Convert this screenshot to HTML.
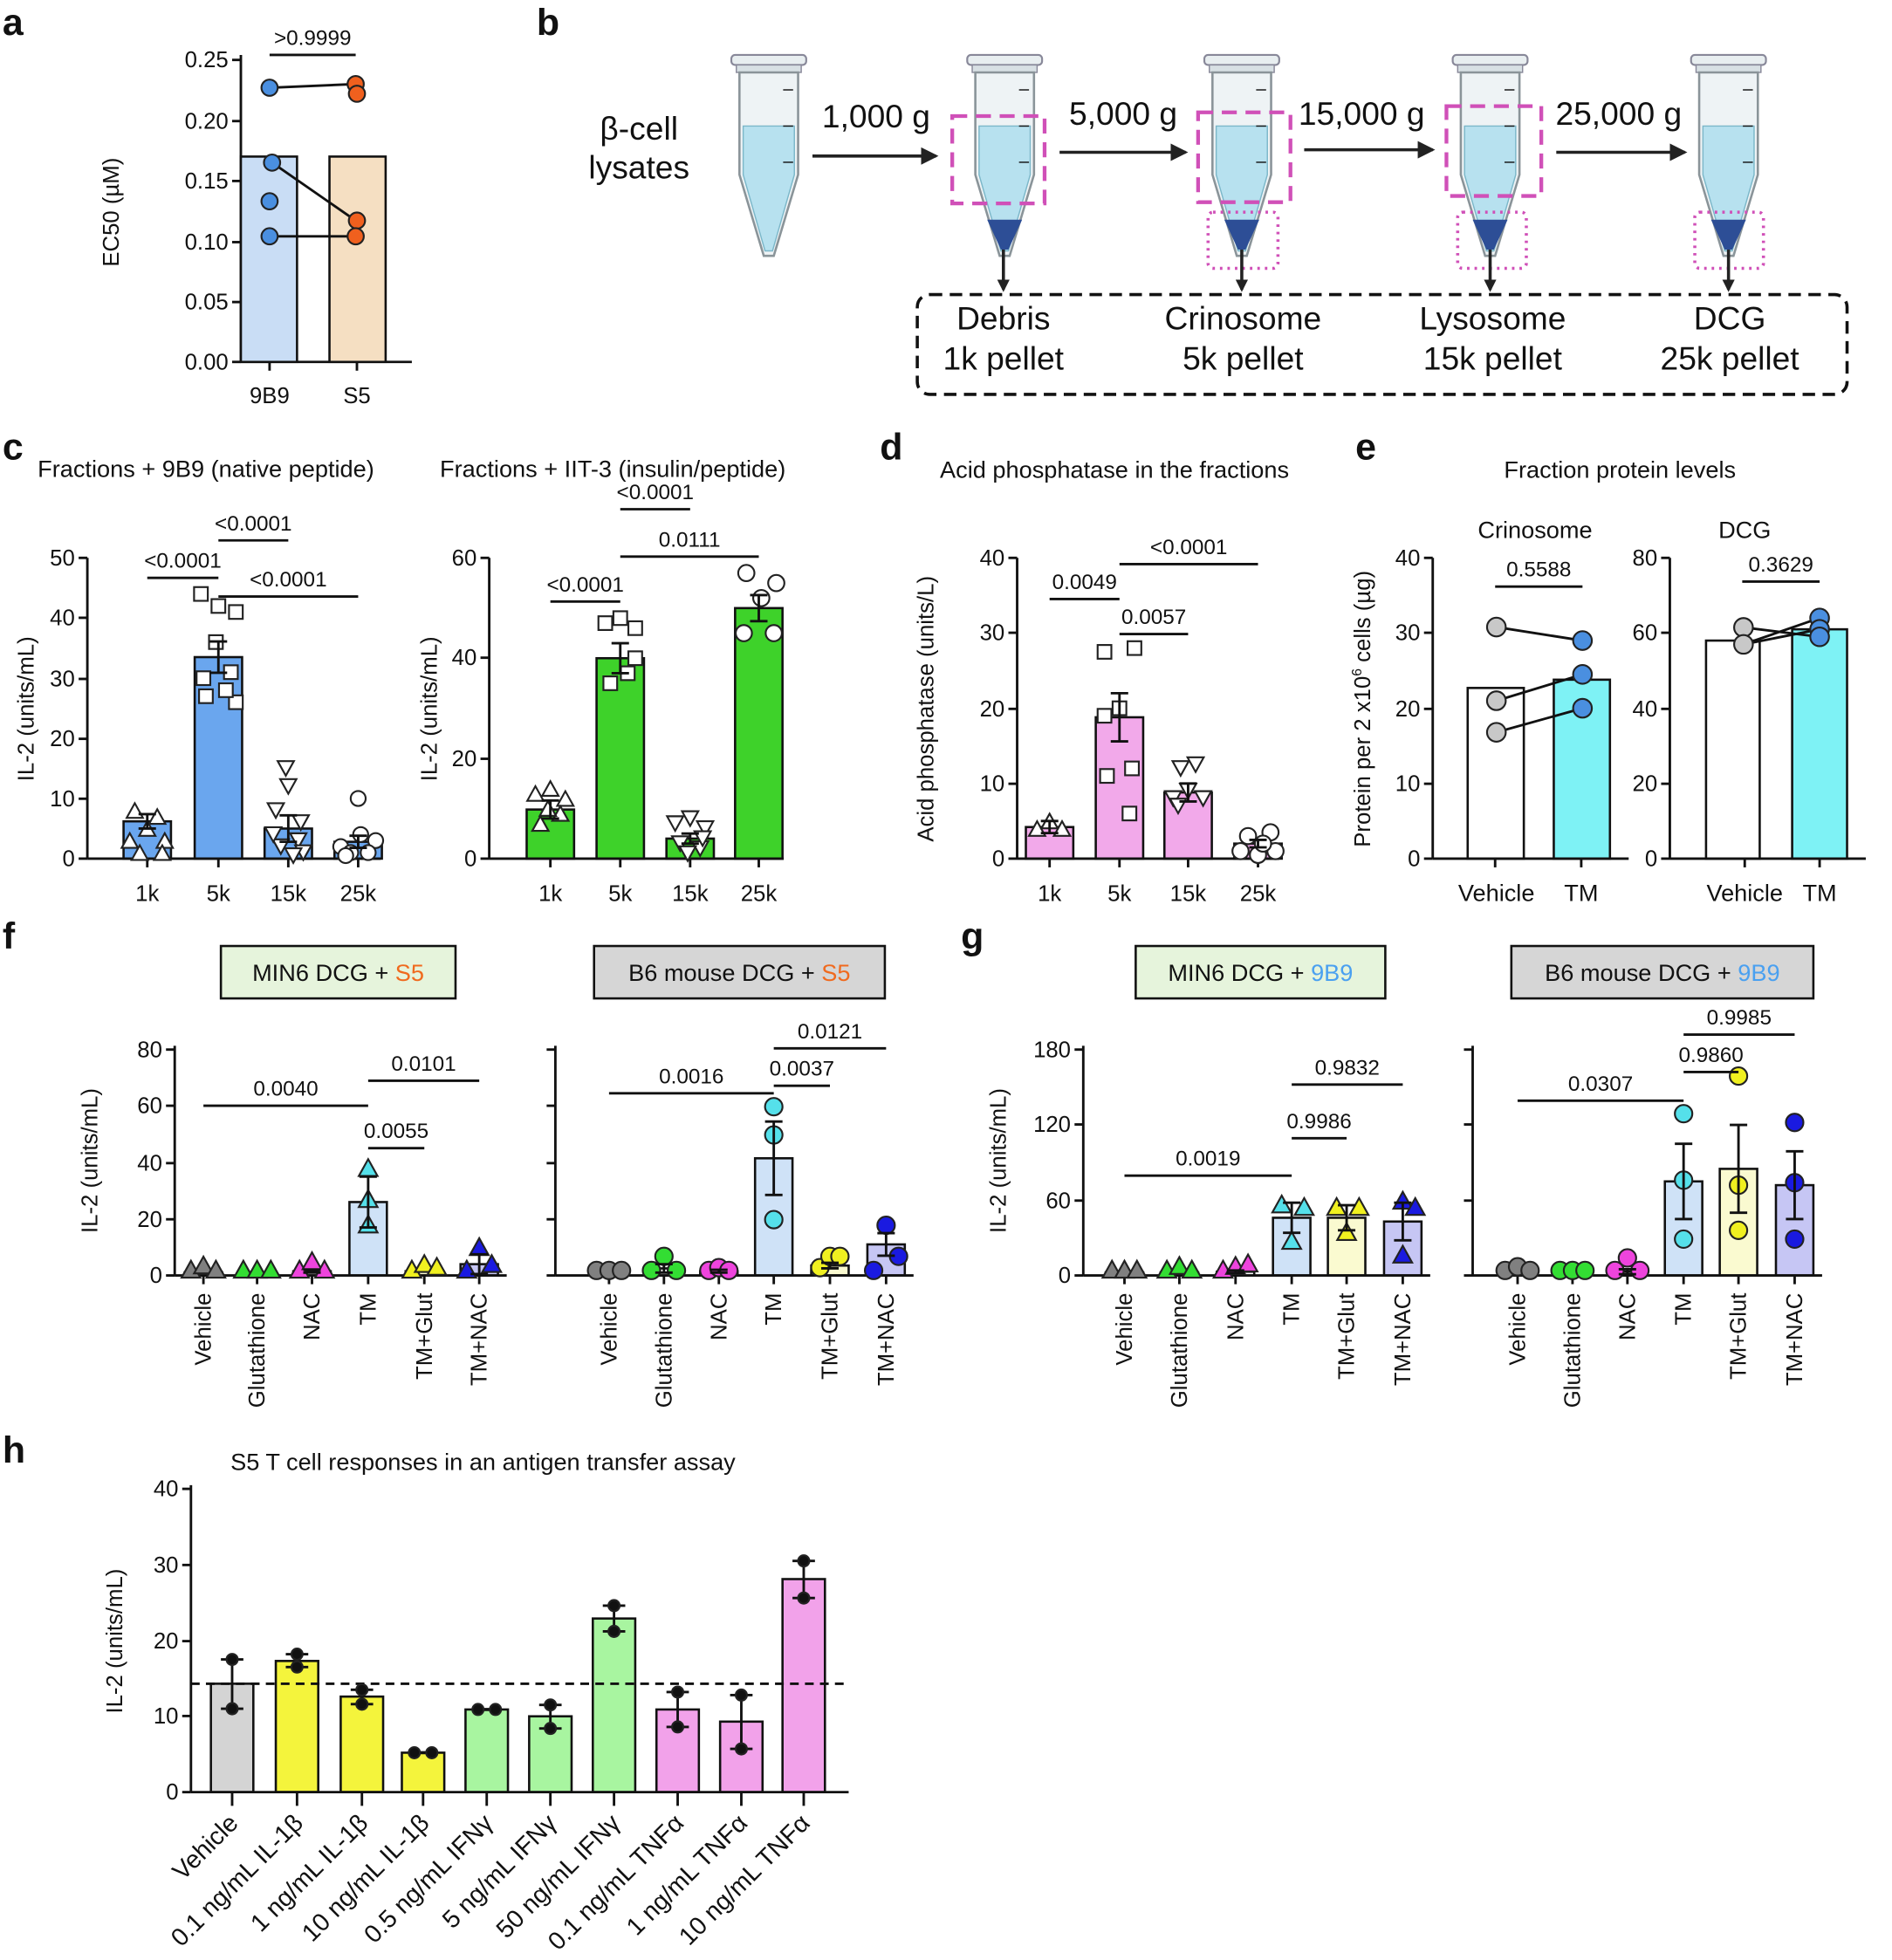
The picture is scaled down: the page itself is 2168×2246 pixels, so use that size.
<!DOCTYPE html>
<html><head><meta charset="utf-8"><style>
html,body{margin:0;padding:0;background:#fff}
svg{display:block}
text{font-family:"Liberation Sans",Arial,sans-serif;fill:#111}
</style></head><body>
<svg id="s" xmlns="http://www.w3.org/2000/svg" width="2168" height="2246" viewBox="0 0 1516 1570.5"></svg>
<script>
var o='';
function A(s){o+=s;}
function T(x,y,t,sz,anc,extra){A('<text x="'+x+'" y="'+y+'" font-size="'+(sz||18)+'" text-anchor="'+(anc||'middle')+'" '+(extra||'')+'>'+t+'</text>');}
function L(x1,y1,x2,y2,w,extra){A('<line x1="'+x1+'" y1="'+y1+'" x2="'+x2+'" y2="'+y2+'" stroke="#111" stroke-width="'+(w||2)+'" '+(extra||'')+'/>');}
function R(x,y,w,h,f,extra){A('<rect x="'+x+'" y="'+y+'" width="'+w+'" height="'+h+'" fill="'+f+'" stroke="#111" stroke-width="1.8" '+(extra||'')+'/>');}
function C(x,y,r,f){A('<circle cx="'+x+'" cy="'+y+'" r="'+r+'" fill="'+f+'" stroke="#222" stroke-width="1.5"/>');}
function Tri(x,y,s,f,down){var h=s*0.9;if(down)A('<polygon points="'+(x-s/2)+','+(y-h/2)+' '+(x+s/2)+','+(y-h/2)+' '+x+','+(y+h/2)+'" fill="'+f+'" stroke="#222" stroke-width="1.5"/>');else A('<polygon points="'+(x-s/2)+','+(y+h/2)+' '+(x+s/2)+','+(y+h/2)+' '+x+','+(y-h/2)+'" fill="'+f+'" stroke="#222" stroke-width="1.5"/>');}
function Sq(x,y,s,f){A('<rect x="'+(x-s/2)+'" y="'+(y-s/2)+'" width="'+s+'" height="'+s+'" fill="'+f+'" stroke="#222" stroke-width="1.5"/>');}
function sig(x1,x2,y,t){L(x1,y,x2,y,2);T((x1+x2)/2,y-8,t,17);}
function axisY(x,y0,y1,ticks,labels,sz){L(x,y0,x,y1,2);for(var i=0;i<ticks.length;i++){L(x-7,ticks[i],x,ticks[i],2);if(labels)T(x-10,ticks[i]+6,labels[i],sz||18,'end');}}
function ylab(x,y,t,sz){A('<text x="'+x+'" y="'+y+'" font-size="'+(sz||18)+'" text-anchor="middle" transform="rotate(-90 '+x+' '+y+')">'+t+'</text>');}
function err(x,y1,y2,w){L(x,y1,x,y2,2);L(x-w,y1,x+w,y1,2);L(x-w,y2,x+w,y2,2);}
function P(t,x,y){T(x,y,t,30,'start','font-weight="bold"');}

P('a',2,28);P('b',430,28);P('c',2,368);P('d',705,368);P('e',1086,368);P('f',2,760);P('g',770,760);P('h',2,1172);

// ---- a
(function(){var y0=290,k=968;function Y(v){return y0-v*k;}
axisY(193,y0,44,[48,97,145,194,242,290],['0.25','0.20','0.15','0.10','0.05','0.00'],18);
L(193,y0,330,y0,2);L(216,y0,216,y0+7,2);L(286,y0,286,y0+7,2);
R(193,Y(0.17),45,0.17*k,'#c9ddf5');R(264,Y(0.17),45,0.17*k,'#f5dfc2');
L(216,Y(.227),285,Y(.230),2);L(218,Y(.165),285,Y(.117),2);L(216,Y(.104),285,Y(.104),2);
C(216,Y(.227),6.5,'#4a8fe0');C(218,Y(.165),6.5,'#4a8fe0');C(216,Y(.133),6.5,'#4a8fe0');C(216,Y(.104),6.5,'#4a8fe0');
C(285,Y(.230),6.5,'#f0601e');C(286,Y(.222),6.5,'#f0601e');C(286,Y(.117),6.5,'#f0601e');C(285,Y(.104),6.5,'#f0601e');
sig(216,285,44,'&gt;0.9999');
T(216,323,'9B9',18);T(286,323,'S5',18);ylab(95,170,'EC50 (µM)',18);})();

// ---- b tubes
function tube(cx,pellet){var l=cx-23.5,r=cx+23.5;
A('<rect x="'+(cx-30)+'" y="44" width="60" height="8" rx="3" fill="#e8eef0" stroke="#889" stroke-width="1.5"/>');
A('<rect x="'+(cx-26)+'" y="52" width="52" height="6" fill="#d8e0e4" stroke="#889" stroke-width="1"/>');
A('<path d="M'+l+',58 L'+r+',58 L'+r+',140 L'+(cx+4)+',205 L'+(cx-4)+',205 L'+l+',140 Z" fill="#eef3f5" stroke="#8a9499" stroke-width="1.8"/>');
A('<path d="M'+(l+3)+',101 L'+(r-3)+',101 L'+(r-3)+',140 L'+(cx+3)+',201 L'+(cx-3)+',201 L'+(l+3)+',140 Z" fill="#b7e1ef" stroke="#7bb7c9" stroke-width="1"/>');
L(r-12,72,r-4,72,1,'stroke="#777"');L(r-12,101,r-4,101,1,'stroke="#777"');L(r-12,130,r-4,130,1,'stroke="#777"');
if(pellet)A('<path d="M'+(cx-14)+',176 L'+(cx+14)+',176 L'+(cx+3)+',200 L'+(cx-3)+',200 Z" fill="#2d4e96"/>');}
var tc=[616,805,995,1194,1385];
for(var i=0;i<5;i++)tube(tc[i],i>0);
T(512,112,'β-cell',26);T(512,143,'lysates',26);
A('<defs><marker id="ar" markerWidth="10" markerHeight="10" refX="8" refY="5" orient="auto" markerUnits="userSpaceOnUse"><path d="M0,0 L10,5 L0,10 Z" fill="#222"/></marker><marker id="ar2" markerWidth="14" markerHeight="14" refX="12" refY="7" orient="auto" markerUnits="userSpaceOnUse"><path d="M0,0 L14,7 L0,14 Z" fill="#222"/></marker></defs>');
function arr(x1,y1,x2,y2,m){A('<line x1="'+x1+'" y1="'+y1+'" x2="'+x2+'" y2="'+y2+'" stroke="#222" stroke-width="2.5" marker-end="url(#'+m+')"/>');}
arr(651,125,750,125,'ar2');arr(849,122,950,122,'ar2');arr(1045,120,1148,120,'ar2');arr(1247,122,1350,122,'ar2');
T(702,102,'1,000 g',26);T(900,100,'5,000 g',26);T(1091,100,'15,000 g',26);T(1297,100,'25,000 g',26);
var dash='fill="none" stroke="#d050b8" stroke-width="3" stroke-dasharray="12,7"';
A('<rect x="763" y="93" width="74" height="70" '+dash+'/>');A('<rect x="960" y="90" width="74" height="72" '+dash+'/>');A('<rect x="1159" y="85" width="76" height="72" '+dash+'/>');
var dot='fill="none" stroke="#d050b8" stroke-width="2.5" stroke-dasharray="2,4" rx="4"';
A('<rect x="968" y="170" width="56" height="45" '+dot+'/>');A('<rect x="1168" y="170" width="55" height="45" '+dot+'/>');A('<rect x="1358" y="170" width="55" height="45" '+dot+'/>');
for(var i=1;i<5;i++)arr(tc[i]-(i==1?1:0),200,tc[i]-(i==1?1:0),232,'ar');
A('<rect x="735" y="236" width="745" height="80" rx="10" fill="none" stroke="#111" stroke-width="2.5" stroke-dasharray="10,6"/>');
var bl=[['Debris','1k pellet',804],['Crinosome','5k pellet',996],['Lysosome','15k pellet',1196],['DCG','25k pellet',1386]];
bl.forEach(function(b){T(b[2],264,b[0],26);T(b[2],296,b[1],26);});

function bars(y0,k,cs,w,hs,fills){for(var i=0;i<cs.length;i++){var h=hs[i]*k;R(cs[i]-w/2,y0-h,w,h,fills[i]);}}
function ebar(y0,k,cs,ms,es,w){for(var i=0;i<cs.length;i++){if(es[i]>0)err(cs[i],y0-(ms[i]+es[i])*k,y0-(ms[i]-es[i])*k,w||7);}}
function xaxis(x1,x2,y0,cs){L(x1,y0,x2,y0,2);cs.forEach(function(c){L(c,y0,c,y0+7,2);});}

// ---- c left
(function(){var y0=688,k=4.82,cs=[118,175,231,287];
axisY(70,y0,447,[447,495,544,592,640,688],['50','40','30','20','10','0'],18);
bars(y0,k,cs,38,[6.2,33.5,5,2.8],['#6aa6ee','#6aa6ee','#6aa6ee','#6aa6ee']);
xaxis(70,305,y0,cs);
[[-14,3],[0,5],[14,3],[-10,8],[8,7],[-6,1],[12,1]].forEach(function(p){Tri(118+p[0],y0-p[1]*k,13,'#fff');});
[[-14,44],[0,42],[14,41],[-12,30],[10,31],[-2,36],[14,26],[-10,27],[6,28]].forEach(function(p){Sq(175+p[0],y0-p[1]*k,11,'#fff');});
[[-2,15],[0,12],[-10,8],[10,6],[-6,2],[8,3],[12,1],[-12,4],[4,0.5]].forEach(function(p){Tri(231+p[0],y0-p[1]*k,13,'#fff',true);});
[[0,10],[-14,2],[14,3],[-6,1],[8,1],[2,4],[-10,0.5]].forEach(function(p){C(287+p[0],y0-p[1]*k,6,'#fff');});
ebar(y0,k,cs,[6.2,33.5,5,2.8],[1.2,2.6,2.2,1],7);
sig(118,175,463,'&lt;0.0001');sig(175,231,433,'&lt;0.0001');sig(175,287,478,'&lt;0.0001');
T(165,382,'Fractions + 9B9 (native peptide)',19);
cs.forEach(function(c,i){T(c,722,['1k','5k','15k','25k'][i],18);});
ylab(27,568,'IL-2 (units/mL)',18);})();

// ---- c right
(function(){var y0=688,k=4.015,cs=[441,497,553,608];
axisY(392,y0,447,[447,527,608,688],['60','40','20','0'],18);
bars(y0,k,cs,38,[9.8,40,4,50],['#3ed22a','#3ed22a','#3ed22a','#3ed22a']);
xaxis(392,628,y0,cs);
[[-12,13],[12,12],[0,14],[-8,7],[8,9],[-2,10]].forEach(function(p){Tri(441+p[0],y0-p[1]*k,13,'#fff');});
[[-12,47],[0,48],[12,46],[-8,35],[6,37],[12,40]].forEach(function(p){Sq(497+p[0],y0-p[1]*k,11,'#fff');});
[[-12,7],[0,8],[12,6],[-8,3],[8,2],[-2,1],[10,4]].forEach(function(p){Tri(553+p[0],y0-p[1]*k,13,'#fff',true);});
[[-10,57],[14,55],[2,52],[-12,45],[12,45]].forEach(function(p){C(608+p[0],y0-p[1]*k,6.5,'#fff');});
ebar(y0,k,cs,[9.8,40,4,50],[1.8,3,1,2.6],7);
sig(441,497,482,'&lt;0.0001');sig(497,553,408,'&lt;0.0001');sig(497,608,446,'0.0111');
T(491,382,'Fractions + IIT-3 (insulin/peptide)',19);
cs.forEach(function(c,i){T(c,722,['1k','5k','15k','25k'][i],18);});
ylab(350,568,'IL-2 (units/mL)',18);})();

// ---- d
(function(){var y0=688,k=6.025,cs=[841,897,952,1008];
axisY(815,y0,447,[447,507,568,628,688],['40','30','20','10','0'],18);
var f='#f2a9ea';bars(y0,k,cs,38,[4.2,18.8,8.8,2],[f,f,f,f]);
xaxis(815,1025,y0,cs);
[[-10,4],[0,5],[10,4]].forEach(function(p){Tri(841+p[0],y0-p[1]*k,13,'#fff');});
[[-12,27.5],[12,28],[-12,19],[0,20],[10,12],[-10,11],[8,6]].forEach(function(p){Sq(897+p[0],y0-p[1]*k,11,'#fff');});
[[-6,12],[6,12.5],[-12,8],[0,9],[12,8],[-8,7]].forEach(function(p){Tri(952+p[0],y0-p[1]*k,13,'#fff',true);});
[[-8,3],[10,3.5],[-14,1],[0,0.5],[14,1],[4,2]].forEach(function(p){C(1008+p[0],y0-p[1]*k,6.5,'#fff');});
ebar(y0,k,cs,[4.2,18.8,8.8,2],[0.8,3.2,1.2,0.5],7);
sig(841,897,480,'0.0049');sig(897,1008,452,'&lt;0.0001');sig(897,952,508,'0.0057');
T(893,383,'Acid phosphatase in the fractions',19);
cs.forEach(function(c,i){T(c,722,['1k','5k','15k','25k'][i],18);});
ylab(748,568,'Acid phosphatase (units/L)',18);})();

// ---- e
(function(){var y0=688,k=6.025;
axisY(1148,y0,447,[447,507,568,628,688],['40','30','20','10','0'],18);
R(1176,y0-22.7*k,45,22.7*k,'#fff');R(1245,y0-23.8*k,45,23.8*k,'#7ef2f5');
xaxis(1148,1305,y0,[1198,1267]);
var v=[30.8,21,16.8],t=[29,24.5,20];
for(var i=0;i<3;i++)L(1199,y0-v[i]*k,1268,y0-t[i]*k,2);
v.forEach(function(a){C(1199,y0-a*k,7.5,'#c8c8c8');});t.forEach(function(a){C(1268,y0-a*k,7.5,'#4a8fe0');});
sig(1198,1268,470,'0.5588');T(1230,431,'Crinosome',19);
T(1199,722,'Vehicle',19);T(1267,722,'TM',19);
var k2=3.0125;
axisY(1338,y0,447,[447,507,568,628,688],['80','60','40','20','0'],18);
R(1367,y0-58*k2,43,58*k2,'#fff');R(1436,y0-61*k2,44,61*k2,'#7ef2f5');
xaxis(1338,1495,y0,[1398,1458]);
L(1397,y0-61.5*k2,1458,y0-59*k2,2);L(1397,y0-57*k2,1458,y0-64*k2,2);L(1397,y0-57*k2,1458,y0-61*k2,2);
C(1397,y0-61.5*k2,7.5,'#c8c8c8');C(1397,y0-57*k2,7.5,'#c8c8c8');C(1458,y0-64*k2,7.5,'#4a8fe0');C(1458,y0-61*k2,7.5,'#4a8fe0');C(1458,y0-59*k2,7.5,'#4a8fe0');
sig(1396,1458,466,'0.3629');T(1398,431,'DCG',19);
T(1398,722,'Vehicle',19);T(1458,722,'TM',19);
T(1298,383,'Fraction protein levels',19);
A('<text x="1098" y="568" font-size="18" text-anchor="middle" transform="rotate(-90 1098 568)">Protein per 2 x10<tspan font-size="11" dy="-7">6</tspan><tspan dy="7"> cells (µg)</tspan></text>');})();

// ---- f/g
var cols=['#808080','#33dd33','#ee44dd','#55e0ea','#f0f020','#1a1ae0'];
var bfill=['#fff','#fff','#fff','#cfe2f7','#fafad0','#c6c6f4'];
var cats=['Vehicle','Glutathione','NAC','TM','TM+Glut','TM+NAC'];
function boxT(x1,x2,fill,a,b){A('<rect x="'+x1+'" y="758" width="'+(x2-x1)+'" height="42" fill="'+fill+'" stroke="#111" stroke-width="1.8"/>');A('<text x="'+((x1+x2)/2)+'" y="786" font-size="19" text-anchor="middle">'+a+'<tspan fill="'+b[1]+'">'+b[0]+'</tspan></text>');}
function grp(ax,cs,k,ms,es,pts,tri,ticks,labels,yl){var y0=1022;
axisY(ax,y0,838,ticks,labels,18);
for(var i=0;i<6;i++){var h=Math.max(ms[i]*k,2.5);R(cs[i]-15,y0-h,30,h,bfill[i]);}
L(ax,y0,cs[5]+22,y0,2);cs.forEach(function(c){L(c,y0,c,y0+7,2);});
for(var i=0;i<6;i++){pts[i].forEach(function(p){if(tri)Tri(cs[i]+p[0],y0-p[1]*k-5,15,cols[i]);else C(cs[i]+p[0],y0-p[1]*k-4,7,cols[i]);});}
ebar(y0,k,cs,ms,es,7);
cs.forEach(function(c,i){A('<text x="'+(c+6)+'" y="1036" font-size="18" text-anchor="end" transform="rotate(-90 '+(c+6)+' 1036)">'+cats[i]+'</text>');});
if(yl)ylab(ax-62,930,'IL-2 (units/mL)',18);}
var z3=[[-10,0],[0,1.5],[10,0]];
boxT(177,365,'#e6f4dc','MIN6 DCG + ',['S5','#f06a1e']);
grp(140,[163,206,250,295,340,384],2.2625,[1,0.5,1.5,26,1.5,4],[0,0,0.5,9,0,3.5],
 [z3,[[-11,0],[0,0],[11,0]],[[-10,0],[0,3],[10,0]],[[0,36],[0,25],[0,16]],[[-10,0],[0,2],[10,1]],[[-10,0],[0,8],[10,2]]],true,[841,886,932,977,1022],['80','60','40','20','0'],true);
sig(163,295,886,'0.0040');sig(295,384,866,'0.0101');sig(295,340,920,'0.0055');
boxT(476,709,'#d6d6d6','B6 mouse DCG + ',['S5','#f06a1e']);
grp(445,[488,532,576,620,665,710],2.2625,[0.5,2.5,1.5,41.5,3.5,11],[0,1.5,0.5,13,1,4],
 [[[-10,0],[0,0],[10,0]],[[-10,0],[0,5],[10,0]],[[-8,0],[0,1],[8,0]],[[0,58],[0,48],[0,18]],[[-8,1],[0,5],[8,5]],[[-10,0],[0,16],[10,5]]],false,[841,886,932,977,1022],null,false);
sig(488,620,876,'0.0016');sig(620,710,840,'0.0121');sig(620,665,870,'0.0037');
boxT(910,1110,'#e6f4dc','MIN6 DCG + ',['9B9','#4aa0f0']);
grp(868,[901,945,990,1035,1079,1124],1.005,[1,2,3,46,46,43],[0,0,1,12,10,15],
 [[[-10,0],[0,0],[10,0]],[[-10,0],[0,3],[10,0]],[[-10,0],[0,3],[10,5]],[[-8,52],[10,50],[0,23]],[[-8,50],[10,50],[0,30]],[[0,55],[10,50],[0,12]]],true,[841,901,962,1022],['180','120','60','0'],true);
sig(901,1035,942,'0.0019');sig(1035,1124,869,'0.9832');sig(1035,1079,912,'0.9986');
boxT(1211,1453,'#d6d6d6','B6 mouse DCG + ',['9B9','#4aa0f0']);
grp(1180,[1216,1260,1304,1349,1393,1438],1.005,[1,1,3,75,85,72],[0,0,2,30,35,27],
 [[[-10,0],[0,3],[10,0]],[[-10,0],[0,0],[10,0]],[[-10,0],[0,10],[10,0]],[[0,125],[0,72],[0,25]],[[0,155],[0,68],[0,32]],[[0,118],[0,70],[0,25]]],false,[841,901,962,1022],null,false);
sig(1216,1349,882,'0.0307');sig(1349,1438,829,'0.9985');sig(1349,1393,859,'0.9860');

// ---- h
(function(){var y0=1436,k=6.075;
var cs=[186,238,290,339,390,441,492,543,594,644];
axisY(153,y0,1190,[1193,1254,1315,1375,1436],['40','30','20','10','0'],18);
var ms=[14.3,17.3,12.6,5.2,10.9,10,22.9,10.9,9.3,28.1];
var fl=['#d4d4d4','#f4f43c','#f4f43c','#f4f43c','#a8f5a0','#a8f5a0','#a8f5a0','#f2a2ea','#f2a2ea','#f2a2ea'];
for(var i=0;i<10;i++)R(cs[i]-17,y0-ms[i]*k,34,ms[i]*k,fl[i]);
L(153,y0,680,y0,2);cs.forEach(function(c){L(c,y0,c,y0+11,2);});
L(153,y0-14.3*k,680,y0-14.3*k,2,'stroke-dasharray="7,5"');
var pp=[[17.5,11],[18.2,16.5],[13.5,11.6],[5.2,5.2],[10.9,10.9],[11.5,8.4],[24.6,21.2],[13.2,8.6],[12.8,5.7],[30.5,25.6]];
for(var i=0;i<10;i++){var a=pp[i];if(Math.abs(a[0]-a[1])>0.1){err(cs[i],y0-a[0]*k,y0-a[1]*k,9);C(cs[i],y0-a[0]*k,4.5,'#111');C(cs[i],y0-a[1]*k,4.5,'#111');}else{L(cs[i]-7,y0-a[0]*k,cs[i]+7,y0-a[0]*k,2.5);C(cs[i]-7,y0-a[0]*k,4.5,'#111');C(cs[i]+7,y0-a[0]*k,4.5,'#111');}}
var lab=['Vehicle','0.1 ng/mL IL-1β','1 ng/mL IL-1β','10 ng/mL IL-1β','0.5 ng/mL IFNγ','5 ng/mL IFNγ','50 ng/mL IFNγ','0.1 ng/mL TNFα','1 ng/mL TNFα','10 ng/mL TNFα'];
cs.forEach(function(c,i){A('<text x="'+(c+6)+'" y="1462" font-size="20" text-anchor="end" transform="rotate(-45 '+(c+6)+' 1462)">'+lab[i]+'</text>');});
T(387,1178,'S5 T cell responses in an antigen transfer assay',19);
ylab(98,1315,'IL-2 (units/mL)',18);})();

document.getElementById('s').innerHTML=o;
</script>
</body></html>
